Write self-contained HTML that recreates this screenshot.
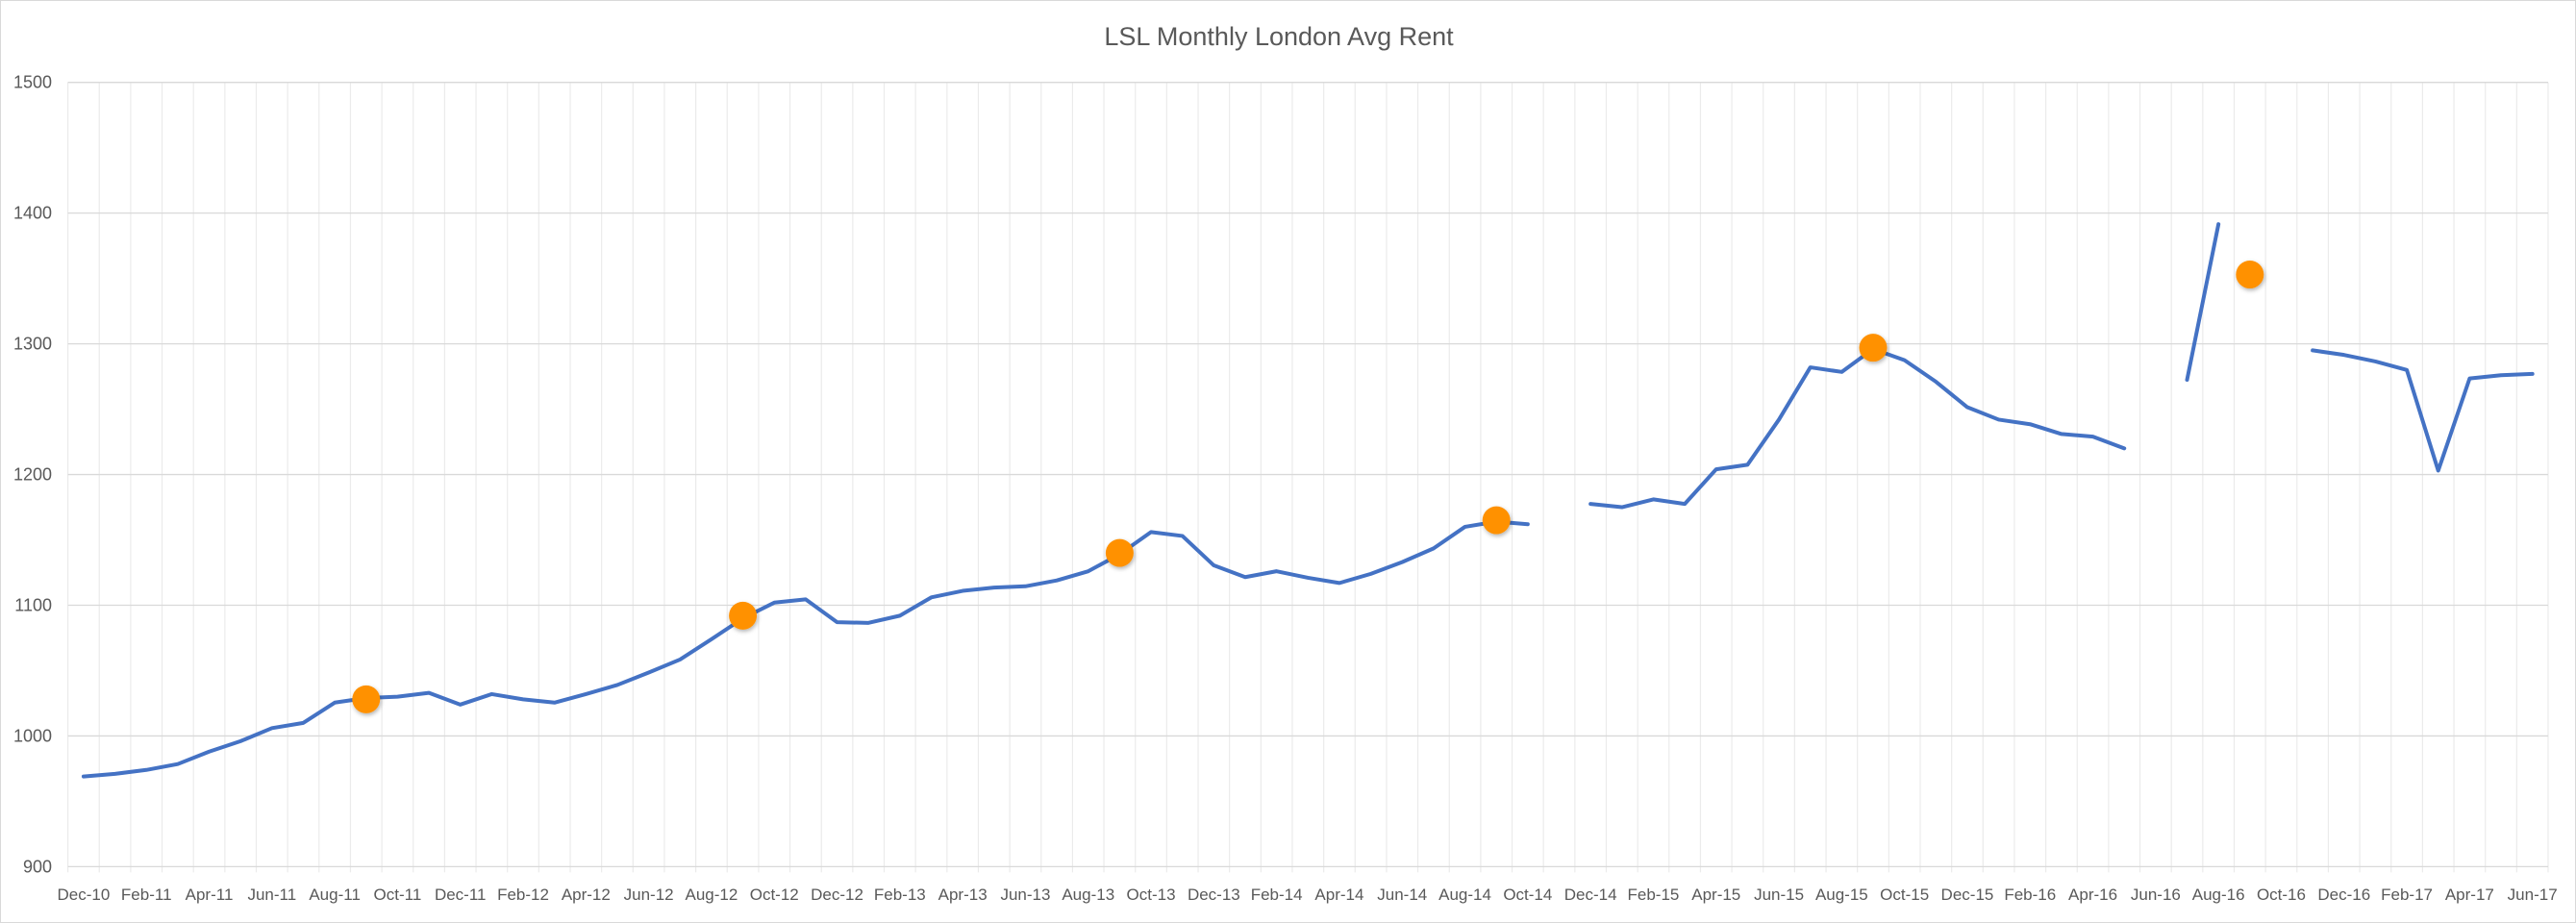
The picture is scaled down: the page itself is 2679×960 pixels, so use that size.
<!DOCTYPE html>
<html><head><meta charset="utf-8"><style>
html,body{margin:0;padding:0;background:#fff}
svg{display:block;font-family:"Liberation Sans",Calibri,sans-serif}
</style></head><body>
<svg id="chart" width="2679" height="960" viewBox="0 0 2679 960" xmlns="http://www.w3.org/2000/svg">
<defs><filter id="sh" x="-50%" y="-50%" width="200%" height="200%"><feDropShadow dx="1" dy="2" stdDeviation="2" flood-color="#000" flood-opacity="0.3"/></filter></defs>
<rect x="0.5" y="0.5" width="2678" height="959" fill="#fff" stroke="#d9d9d9"/>
<text x="1330" y="47" text-anchor="middle" font-size="27" fill="#595959">LSL Monthly London  Avg Rent</text>
<g id="grid"></g><g id="axes"></g><g id="series"></g><g id="markers"></g>
</svg>
<script>
const months = ["Dec","Jan","Feb","Mar","Apr","May","Jun","Jul","Aug","Sep","Oct","Nov"];
const categoryCount = 79;
const rentValues = [969,971,974,978.5,988,996,1006,1010,1025.5,1029,1030,1033,1024,1032,1028,1025.5,1032,1039,1048.5,1058.5,1074,1090,1102,1104.5,1087,
1086.5,1092,1106,1111,1113.5,1114.5,1119,1126,1139,1156,1153,1130.5,1121.5,1126,1121,1117,1124,1133,1143.5,1160,1164,1162,null,1177.5,1175,1181,1177.5,1204,1207.5,
1242,1282,1278.5,1296,1287.5,1271,1251.5,1242,1238.5,1231,1229,1220,null,1272.5,1391.5,null,null,1295,1291.5,1286.5,1280,1203,1273.5,1276,1277];
const markerIdx = [9,21,33,45,57,69];
const markerValues = [1028,1092,1140,1165,1297,1353];
const yTicks = [900,1000,1100,1200,1300,1400,1500];

const NS="http://www.w3.org/2000/svg";
const X0=70.6, X1=2650, YT=85.7, YB=901.4, YMIN=900, YMAX=1500;
const step=(X1-X0)/categoryCount;
const xs=i=>X0+step*(i+0.5);
const ys=v=>YB-(v-YMIN)/(YMAX-YMIN)*(YB-YT);
function mk(tag,attrs,parent){const e=document.createElementNS(NS,tag);for(const k in attrs)e.setAttribute(k,attrs[k]);parent.appendChild(e);return e;}
const grid=document.getElementById('grid'),axes=document.getElementById('axes'),series=document.getElementById('series'),markers=document.getElementById('markers');
for(let i=0;i<=categoryCount;i++){
  const x=X0+step*i;
  const l=mk('line',{x1:x,x2:x,y1:YT,y2:YB+6,stroke:'#ebebeb','stroke-width':1.2},grid);
  
  
}
yTicks.forEach(v=>{
  const l=mk('line',{x1:X0,x2:X1,y1:ys(v),y2:ys(v),stroke:'#d9d9d9','stroke-width':1.3},grid);
  
  
  const t=mk('text',{x:54,y:ys(v)+6,'text-anchor':'end','font-size':18,fill:'#595959'},axes);
  t.textContent=v;
  
  
});
for(let i=0;i<categoryCount;i+=2){
  const m=months[i%12], yr=10+Math.floor((i+11)/12);
  const t=mk('text',{x:xs(i),y:936,'text-anchor':'middle','font-size':17,fill:'#595959'},axes);
  t.textContent=m+'-'+yr;
  
  
}
let seg=[];
function flush(){
  if(seg.length>1){
    const p=mk('polyline',{points:seg.join(' '),fill:'none',stroke:'#4472c4','stroke-width':4,'stroke-linejoin':'round','stroke-linecap':'round'},series);
    
    
  }
  seg=[];
}
rentValues.forEach((v,i)=>{if(v==null)flush();else seg.push(xs(i)+','+ys(v));});
flush();
markerIdx.forEach((idx,k)=>{
  const c=mk('circle',{cx:xs(idx),cy:ys(markerValues[k]),r:14.5,fill:'#ff9100',filter:'url(#sh)'},markers);
  
  
});
</script>
</body></html>
